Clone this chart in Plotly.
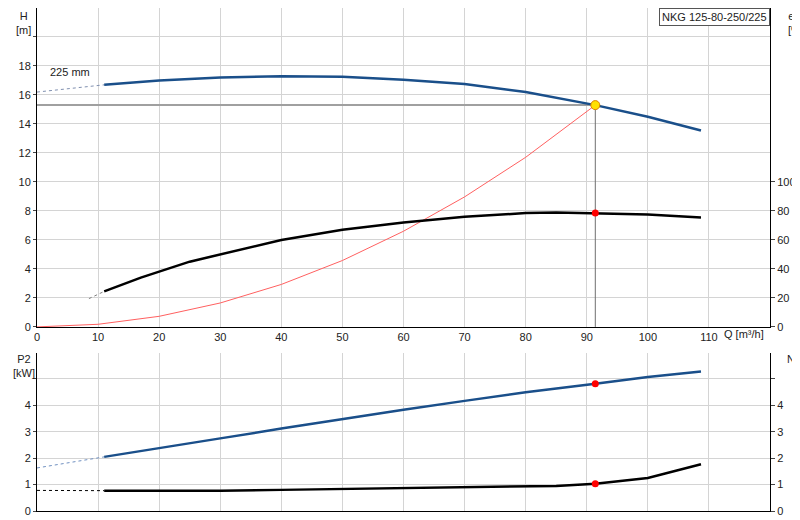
import plotly.graph_objects as go

q_h = [11, 20, 30, 40, 50, 60, 70, 80, 91.4, 100, 108.7]
h = [16.7, 17.0, 17.2, 17.3, 17.25, 17.05, 16.75, 16.2, 15.3, 14.5, 13.55]
q_h_ext = [0, 11]; h_ext = [16.2, 16.7]

q_eta = [11, 17, 25, 34, 40, 50, 60, 70, 80, 85, 91.4, 100, 108.7]
eta = [24.5, 34, 45, 54, 60, 67, 72, 76, 78.5, 79, 78.5, 77.5, 75.5]
q_eta_ext = [8.5, 11]; eta_ext = [19.5, 24.5]

q_sys = [0, 10, 20, 30, 40, 50, 60, 70, 80, 91.4]
h_sys = [0, 0.18, 0.73, 1.65, 2.93, 4.58, 6.6, 8.97, 11.7, 15.3]

q_p = [11, 20, 30, 40, 50, 60, 70, 80, 91.4, 100, 108.7]
p2 = [2.05, 2.37, 2.75, 3.12, 3.48, 3.83, 4.17, 4.5, 4.82, 5.07, 5.28]
q_p_ext = [0, 11]; p2_ext = [1.63, 2.05]

q_n = [11, 20, 30, 40, 50, 60, 70, 80, 85, 91.4, 100, 108.7]
npsh = [0.77, 0.77, 0.77, 0.8, 0.83, 0.86, 0.89, 0.93, 0.95, 1.03, 1.25, 1.77]
q_n_ext = [0, 11]; npsh_ext = [0.78, 0.77]

q_op = 91.4; h_op = 15.3; eta_op = 78.5; p2_op = 4.82; npsh_op = 1.03
x_ticks = list(range(0, 111, 10))

BLUE = "#1a4f8a"
fig = go.Figure()
L = lambda **k: go.Scatter(mode="lines", showlegend=False, hoverinfo="skip", **k)
fig.add_trace(L(x=[0, q_op], y=[h_op, h_op], line=dict(color="#a0a0a0", width=2), xaxis="x", yaxis="y"))
fig.add_trace(L(x=[q_op, q_op], y=[h_op, 0], line=dict(color="#707070", width=1), xaxis="x", yaxis="y"))
fig.add_trace(L(x=q_sys, y=h_sys, line=dict(color="#ff6060", width=1), xaxis="x", yaxis="y"))
fig.add_trace(L(x=q_h_ext, y=h_ext, line=dict(color="#8090b0", width=1, dash="dot"), xaxis="x", yaxis="y"))
fig.add_trace(L(x=q_h, y=h, line=dict(color=BLUE, width=2.5), xaxis="x", yaxis="y"))
fig.add_trace(L(x=q_eta_ext, y=eta_ext, line=dict(color="#808080", width=1, dash="dot"), xaxis="x", yaxis="y3"))
fig.add_trace(L(x=q_eta, y=eta, line=dict(color="black", width=2.5), xaxis="x", yaxis="y3"))
fig.add_trace(go.Scatter(x=[q_op], y=[eta_op], mode="markers", marker=dict(color="red", size=7), xaxis="x", yaxis="y3", showlegend=False))
fig.add_trace(go.Scatter(x=[q_op], y=[h_op], mode="markers", marker=dict(color="#ffe000", size=9, line=dict(color="#e08000", width=1)), xaxis="x", yaxis="y", showlegend=False))
fig.add_trace(L(x=q_p_ext, y=p2_ext, line=dict(color="#7090c0", width=1, dash="dot"), xaxis="x2", yaxis="y2"))
fig.add_trace(L(x=q_p, y=p2, line=dict(color=BLUE, width=2.5), xaxis="x2", yaxis="y2"))
fig.add_trace(L(x=q_n_ext, y=npsh_ext, line=dict(color="black", width=1, dash="dot"), xaxis="x2", yaxis="y4"))
fig.add_trace(L(x=q_n, y=npsh, line=dict(color="black", width=2.5), xaxis="x2", yaxis="y4"))
fig.add_trace(go.Scatter(x=[q_op], y=[p2_op], mode="markers", marker=dict(color="red", size=7), xaxis="x2", yaxis="y2", showlegend=False))
fig.add_trace(go.Scatter(x=[q_op], y=[npsh_op], mode="markers", marker=dict(color="red", size=7), xaxis="x2", yaxis="y4", showlegend=False))

grid = "#d4d4d4"
common_x = dict(range=[0, 120], tickvals=x_ticks + [120], showgrid=True, gridcolor=grid, zeroline=False,
                showline=True, linecolor="black", mirror=False)
top_dom = [0.366, 1.0]; bot_dom = [0.0, 0.315]
fig.update_layout(
    width=800, height=520, margin=dict(l=29, r=38, t=0, b=17),
    plot_bgcolor="white", paper_bgcolor="white",
    font=dict(family="Liberation Sans, Arial", size=11, color="#222"),
    xaxis=dict(common_x, domain=[0, 1], anchor="y", ticktext=[str(v) for v in x_ticks] + [""], ticklen=0),
    xaxis2=dict(common_x, domain=[0, 1], anchor="y2", showticklabels=False, ticklen=0),
    yaxis=dict(domain=top_dom, range=[0, 22], tickvals=list(range(0, 21, 2)),
               ticktext=[str(v) for v in range(0, 19, 2)] + [""], gridcolor=grid, zeroline=False,
               showline=True, linecolor="black", ticks="outside", ticklen=3),
    yaxis3=dict(overlaying="y", side="right", range=[0, 220], tickvals=list(range(0, 101, 20)),
                showgrid=False, zeroline=False, showline=True, linecolor="black", ticks="outside", ticklen=4),
    yaxis2=dict(domain=bot_dom, anchor="x2", range=[0, 6], tickvals=[0, 1, 2, 3, 4, 5],
                ticktext=["0", "1", "2", "3", "4", ""], gridcolor=grid, zeroline=False,
                showline=True, linecolor="black", ticks="outside", ticklen=3),
    yaxis4=dict(overlaying="y2", side="right", range=[0, 6], tickvals=[0, 1, 2, 3, 4, 5],
                ticktext=["0", "1", "2", "3", "4", ""], showgrid=False, zeroline=False,
                showline=True, linecolor="black", ticks="outside", ticklen=4),
)
def A(**k):
    fig.add_annotation(showarrow=False, xref="paper", yref="paper", **k)
A(x=-0.018, y=1.0, text="H<br>[m]", xanchor="center", yanchor="top", align="center")
A(x=1.035, y=1.0, text="eta<br>[%]", xanchor="center", yanchor="top", align="center")
A(x=0.965, y=(503-334)/486+0.005, text="Q [m³/h]", xanchor="center", yanchor="middle")
A(x=-0.018, y=(503-348)/486, text="P2<br>[kW]", xanchor="center", yanchor="top", align="center")
A(x=1.045, y=(503-348)/486, text="NPSH<br>[m]", xanchor="center", yanchor="top", align="center")
fig.add_annotation(x=9, y=17.6, xref="x", yref="y", text="225 mm", showarrow=False, xanchor="right")
A(x=1.0, y=1.0, text="NKG 125-80-250/225", xanchor="right", yanchor="top",
  bordercolor="#555", borderwidth=1, borderpad=2, bgcolor="white")
fig.write_html("out.html")
